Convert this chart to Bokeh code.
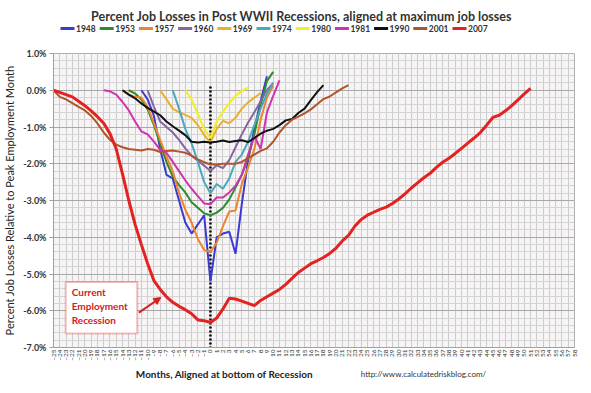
import numpy as np
from bokeh.plotting import figure
from bokeh.layouts import column
from bokeh.models import (FixedTicker, PrintfTickFormatter, Label, Range1d, BoxAnnotation,
                          Arrow, NormalHead)
from bokeh.core.properties import value
from bokeh.embed import file_html
from bokeh.resources import INLINE

# ---------------- data (percent job losses vs months from bottom) ----------------
month_ticks = list(range(-25, 59))
pct_ticks = list(range(-7, 2))

series_names = ["1948", "1953", "1957", "1960", "1969", "1974", "1980", "1981", "1990", "2001", "2007"]

start_1948 = -11
y_1948 = [0.0, -0.25, -0.7, -1.6, -2.3, -2.4, -3.0, -3.6, -3.9, -3.65, -3.4,
          -5.2, -4.0, -3.9, -3.85, -4.45, -3.1, -1.9, -1.05, -0.3, 0.38]

start_1953 = -13
y_1953 = [0.0, -0.09, -0.25, -0.52, -0.95, -1.45, -1.95, -2.35, -2.58, -2.78, -3.05, -3.2, -3.35,
          -3.4, -3.33, -3.2, -2.97, -2.65, -2.3, -1.85, -1.2, -0.4, 0.25, 0.5]

start_1957 = -14
y_1957 = [0.0, -0.12, -0.18, -0.2, -0.45, -0.9, -1.36, -1.8, -2.2, -2.8, -3.25, -3.6, -4.05, -4.35,
          -4.4, -4.15, -3.7, -3.3, -3.27, -2.55, -2.1, -1.6, -0.8, -0.2, 0.12]

start_1960 = -10
y_1960 = [0.0, -0.45, -0.85, -1.0, -1.15, -1.35, -1.58, -1.78, -1.92, -2.05,
          -2.2, -2.04, -2.12, -1.9, -1.55, -1.2, -0.88, -0.6, -0.3, 0.0, 0.2]

start_1969 = -8
y_1969 = [0.0, -0.25, -0.5, -0.6, -0.67, -0.75, -0.95, -1.22,
          -1.42, -1.05, -0.83, -0.9, -0.75, -0.5, -0.33, -0.2, -0.08]

start_1974 = -6
y_1974 = [0.0, -0.5, -1.05, -1.45, -1.95, -2.5,
          -2.8, -2.55, -2.68, -2.4, -1.95, -1.75, -1.4, -0.95, -0.5, -0.1, 0.2]

start_1980 = -4
y_1980 = [0.0, -0.25, -0.65, -1.05, -1.3, -0.85, -0.58, -0.35, -0.15, -0.02, 0.07]

start_1981 = -17
y_1981 = [0.0, -0.03, -0.12, -0.32, -0.55, -0.85, -1.12, -1.2, -1.4, -1.62, -1.7, -1.95, -2.2,
          -2.45, -2.68, -2.88, -3.08, -3.1, -2.92, -2.92, -2.78, -2.6, -2.3, -1.75, -1.25,
          -1.6, -0.6, -0.15, 0.27]

start_1990 = -14
y_1990 = [0.0, -0.12, -0.22, -0.36, -0.48, -0.58, -0.68, -0.85, -0.98, -1.1, -1.22, -1.4, -1.42,
          -1.4, -1.42, -1.4, -1.37, -1.41, -1.38, -1.36, -1.41, -1.3, -1.18, -1.1, -1.05, -0.95,
          -0.82, -0.78, -0.62, -0.5, -0.27, -0.05, 0.14]

start_2001 = -25
y_2001 = [0.0, -0.18, -0.25, -0.35, -0.45, -0.55, -0.7, -0.9, -1.15, -1.35, -1.48, -1.55, -1.6,
          -1.62, -1.64, -1.6, -1.62, -1.68, -1.65, -1.64, -1.67, -1.7, -1.78, -1.88, -1.96,
          -2.02, -2.02, -2.0, -2.0, -2.0, -1.95, -1.85, -1.75, -1.65, -1.58, -1.4, -1.15, -0.95,
          -0.8, -0.72, -0.63, -0.52, -0.38, -0.24, -0.17, -0.06, 0.05, 0.14]

start_2007 = -25
y_2007 = [0.0, -0.06, -0.12, -0.18, -0.30, -0.42, -0.56, -0.72, -0.90, -1.18, -1.60, -2.28,
          -3.00, -3.65, -4.20, -4.72, -5.18, -5.42, -5.62, -5.77, -5.88, -5.97, -6.08, -6.25,
          -6.27, -6.32, -6.20, -5.95, -5.66, -5.68, -5.74, -5.80, -5.86, -5.72, -5.62, -5.52,
          -5.42, -5.28, -5.12, -4.96, -4.84, -4.72, -4.64, -4.55, -4.44, -4.30, -4.10, -3.95,
          -3.70, -3.52, -3.40, -3.32, -3.24, -3.18, -3.08, -2.96, -2.82, -2.66, -2.52, -2.38,
          -2.26, -2.10, -1.96, -1.85, -1.72, -1.58, -1.44, -1.30, -1.15, -0.95, -0.74, -0.68,
          -0.56, -0.42, -0.26, -0.10, 0.05]

starts = [start_1948, start_1953, start_1957, start_1960, start_1969, start_1974,
          start_1980, start_1981, start_1990, start_2001, start_2007]
values = [y_1948, y_1953, y_1957, y_1960, y_1969, y_1974, y_1980, y_1981, y_1990, y_2001, y_2007]

colors = ["#3b3bd0", "#2a8c2a", "#ee8430", "#8466a4", "#e8b02e", "#4aa8c0",
          "#f0ee30", "#d033b0", "#111111", "#b0552a", "#e32222"]
widths = [2, 2, 2, 2, 2, 2, 2.2, 2, 2, 2, 3]

title_text = "Percent Job Losses in Post WWII Recessions, aligned at maximum job losses"
xlabel_text = "Months, Aligned at bottom of Recession"
url_text = "http://www.calculatedriskblog.com/"

FONT = "Lato"
W = 591
LEFT, RIGHT = 53, 17


def strip(h):
    # page-pixel coordinates inside a strip whose frame is aligned with the chart frame
    f = figure(width=W, height=h, output_backend="svg", toolbar_location=None,
               x_range=Range1d(LEFT, W - RIGHT), y_range=Range1d(h, 0),
               x_axis_location=None, y_axis_location=None,
               min_border_left=LEFT, min_border_right=RIGHT, min_border_top=0, min_border_bottom=0,
               border_fill_color="white", background_fill_color="white")
    f.grid.visible = False
    f.outline_line_color = None
    return f


# ---------------- top strip: title + legend ----------------
top = strip(45)
top.text(x=[301], y=[16], text=[title_text], text_font=value(FONT), text_font_size="12.5px",
         text_font_style="bold", text_color="#333333", text_align="center", text_baseline="middle")
leg_x = [60 + 39.2 * i for i in range(len(series_names))]
top.segment(x0=leg_x, y0=[28] * len(leg_x), x1=[x + 14 for x in leg_x], y1=[28] * len(leg_x),
            line_color=colors, line_width=3)
top.text(x=[x + 15.5 for x in leg_x], y=[28] * len(leg_x), text=series_names,
         text_font=value(FONT), text_font_size="8.5px", text_font_style="bold",
         text_color="#333333", text_align="left", text_baseline="middle")

# ---------------- main chart ----------------
p = figure(width=W, height=320, output_backend="svg", toolbar_location=None,
           x_range=Range1d(-25, 58), y_range=Range1d(-7, 1),
           min_border_left=LEFT, min_border_right=RIGHT, min_border_top=8, min_border_bottom=18,
           background_fill_color="#f6f4f4", border_fill_color="white")
p.outline_line_color = "#b0b0b0"

p.xaxis.ticker = FixedTicker(ticks=month_ticks)
p.yaxis.ticker = FixedTicker(ticks=pct_ticks, minor_ticks=[round(-7 + 0.2 * i, 1) for i in range(41)])
p.xgrid.grid_line_color = "#cdcdcd"
p.ygrid.grid_line_color = "#a8a8a8"
p.ygrid.minor_grid_line_color = "#d4d4d4"

p.yaxis.formatter = PrintfTickFormatter(format="%.1f%%")
p.yaxis.major_label_text_font = FONT
p.yaxis.major_label_text_font_style = "bold"
p.yaxis.major_label_text_font_size = "9px"
p.yaxis.major_label_text_color = "#333333"
p.yaxis.major_tick_out = 4
p.yaxis.major_tick_in = 0
p.yaxis.minor_tick_line_color = None
p.yaxis.major_label_standoff = 3
p.yaxis.axis_line_color = "#a0a0a0"
p.yaxis.major_tick_line_color = "#a0a0a0"
p.yaxis.axis_label = "Percent Job Losses Relative to Peak Employment Month"
p.yaxis.axis_label_text_font = FONT
p.yaxis.axis_label_text_font_style = "normal"
p.yaxis.axis_label_text_font_size = "11px"
p.yaxis.axis_label_text_color = "#222222"
p.yaxis.axis_label_standoff = 4
try:
    p.yaxis.axis_label_align = "right"
except Exception:
    pass

p.xaxis.major_label_orientation = np.pi / 2
p.xaxis.major_label_text_font = FONT
p.xaxis.major_label_text_font_size = "6.5px"
p.xaxis.major_label_text_color = "#333333"
p.xaxis.major_label_standoff = 2
p.xaxis.major_tick_out = 0
p.xaxis.major_tick_in = 0
p.xaxis.minor_tick_line_color = None
p.xaxis.axis_line_color = "#a0a0a0"

# dotted line at the bottom of recessions
p.segment(x0=[0], y0=[0.1], x1=[0], y1=[-7.0], line_color="black", line_width=2.5, line_dash="2 2")

for st, vals, c, w in zip(starts, values, colors, widths):
    xs = list(range(st, st + len(vals)))
    p.line(xs, vals, line_color=c, line_width=w)

box = BoxAnnotation(left=-23.06, right=-11.66, top=-5.22, bottom=-6.62,
                    fill_color="white", fill_alpha=1.0, line_color="#d42020", line_width=2)
p.add_layout(box)
for txt, yy in [("Current", -5.50), ("Employment", -5.88), ("Recession", -6.25)]:
    p.add_layout(Label(x=-22.1, y=yy, text=txt, text_font=FONT, text_font_size="10px",
                       text_font_style="bold", text_color="#d42020", text_baseline="middle"))
p.add_layout(Arrow(end=NormalHead(size=7, fill_color="#d42020", line_color="#d42020"),
                   x_start=-11.4, y_start=-6.05, x_end=-7.9, y_end=-5.64,
                   line_color="#d42020", line_width=2))

# ---------------- bottom strip ----------------
bot = strip(28)
bot.text(x=[224], y=[8], text=[xlabel_text], text_font=value(FONT), text_font_size="10px",
         text_font_style="bold", text_color="#222222", text_align="center", text_baseline="middle")
bot.text(x=[423], y=[8], text=[url_text], text_font=value(FONT), text_font_size="8px",
         text_color="#333333", text_align="center", text_baseline="middle")

layout = column(top, p, bot, spacing=0)
open("out.html", "w").write(file_html(layout, INLINE))
